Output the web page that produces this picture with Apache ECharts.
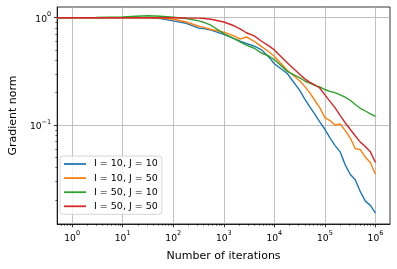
<!DOCTYPE html>
<html>
<head>
<meta charset="utf-8">
<script src="https://cdn.jsdelivr.net/npm/echarts@6/dist/echarts.min.js"></script>
<style>html,body{margin:0;padding:0;background:#fff}#c{width:397px;height:269px}</style>
</head>
<body>
<div id="c"></div>
<script>
var iterations = [0.5, 1, 3, 10, 18, 32, 56, 100, 180, 320, 400, 560, 1000, 1600, 2100, 2800, 4000, 5600, 7900, 10000, 18000, 32000, 40000, 50000, 63000, 79000, 100000, 126000, 158000, 200000, 251000, 316000, 398000, 501000, 631000, 794000, 1000000];
var seriesNames = ['I = 10, J = 10', 'I = 10, J = 50', 'I = 50, J = 10', 'I = 50, J = 50'];
var i10j10 = [1,1,1,1,1,1,0.982,0.933,0.887,0.798,0.791,0.767, 0.700,0.638,0.603,0.575,0.543,0.501,0.427,0.372, 0.302,0.209,0.174,0.148,0.126,0.107,0.0912,0.0759,0.0646,0.0562,0.0427,0.0347,0.0309,0.0240,0.0195,0.0178,0.0151];
var i10j50 = [1,1,1,1,1,1,0.993,0.966,0.912,0.832,0.813,0.776, 0.733,0.676,0.631,0.661,0.603,0.537,0.479,0.437, 0.324,0.257,0.229,0.200,0.170,0.145,0.117,0.110,0.100,0.102,0.0891,0.0759,0.0603,0.0589,0.0501,0.0447,0.0347];
var i50j10 = [1,1.002,1.005,1.014,1.030,1.042,1.030,1.009,0.982,0.933,0.906,0.851, 0.711,0.638,0.596,0.556,0.519,0.468,0.437,0.407, 0.316,0.275,0.257,0.245,0.234,0.226,0.214,0.206,0.200,0.191,0.182,0.170,0.155,0.143,0.135,0.127,0.120];
var i50j50 = [1,1,1,1,1,1,1,1,0.995,0.991,0.984,0.966, 0.912,0.841,0.785,0.724,0.676,0.603,0.543,0.501, 0.380,0.295,0.269,0.251,0.237,0.221,0.191,0.166,0.145,0.123,0.105,0.0912,0.0794,0.0692,0.0631,0.0562,0.0447];
var xMajorTicks = [1, 10, 100, 1000, 10000, 100000, 1000000];
var xMinorTicks = [];
[0.1,1,10,100,1000,10000,100000,1000000].forEach(function(d){for(var k=2;k<=9;k++){xMinorTicks.push(d*k);}});
var yMajorTicks = [0.1, 1];
var yMinorTicks = [];
[0.01,0.1].forEach(function(d){for(var k=2;k<=9;k++){yMinorTicks.push(d*k);}});
var xRange = [0.506, 1.94e6];
var yRange = [0.01194, 1.258];
var colors = ['#1f77b4', '#ff7f0e', '#2ca02c', '#d62728'];
var allY = [i10j10, i10j50, i50j10, i50j50];

var FONT = 'DejaVu Sans';
function expLabel(v) {
  var e = Math.round(Math.log(v) / Math.LN10);
  var s = e < 0 ? '\u2212' + (-e) : '' + e;
  return '{b|10}{s|' + s + '}';
}
var rich = {
  b: {fontFamily: FONT, fontSize: 9.2, color: '#000', verticalAlign: 'bottom', lineHeight: 13},
  s: {fontFamily: FONT, fontSize: 6.5, color: '#000', verticalAlign: 'top', lineHeight: 13}
};
var chart = echarts.init(document.getElementById('c'), null, {renderer: 'canvas'});
var series = allY.map(function(arr, i) {
  return {
    name: seriesNames[i], type: 'line', symbol: 'none', smooth: false,
    xAxisIndex: 0, yAxisIndex: 0,
    lineStyle: {width: 1.4, color: colors[i]}, itemStyle: {color: colors[i]},
    data: iterations.map(function(x, j) { return [x, arr[j]]; }),
    animation: false
  };
});
chart.setOption({
  animation: false,
  textStyle: {fontFamily: FONT},
  grid: {left: 57, right: 7, top: 7, bottom: 45, show: true, borderColor: '#000', borderWidth: 0.8, backgroundColor: 'transparent'},
  legend: {
    orient: 'vertical', left: 60, top: 156,
    data: seriesNames,
    itemWidth: 22, itemHeight: 11, itemGap: 4.1,
    padding: [3, 4, 3, 4],
    backgroundColor: 'rgba(255,255,255,0.8)', borderColor: '#cccccc', borderWidth: 0.8, borderRadius: 3,
    textStyle: {fontFamily: FONT, fontSize: 9.5, color: '#000', padding: [0,0,0,3]},
    icon: 'path://M0,0 L1,0 L1,0.08 L0,0.08 Z'
  },
  xAxis: [{
    type: 'log', logBase: 10, min: xRange[0], max: xRange[1],
    name: 'Number of iterations', nameLocation: 'middle', nameGap: 27,
    nameTextStyle: {fontFamily: FONT, fontSize: 11, color: '#000'},
    axisLine: {show: true, lineStyle: {color: '#000', width: 0.8}},
    axisTick: {show: true, length: 3.3, customValues: xMajorTicks, lineStyle: {color: '#000', width: 0.8}},
    axisLabel: {customValues: xMajorTicks, formatter: expLabel, rich: rich, margin: 6},
    splitLine: {show: true, lineStyle: {color: '#b0b0b0', width: 0.8}},
    minorTick: {show: false}
  }, {
    type: 'log', logBase: 10, min: xRange[0], max: xRange[1], position: 'bottom', offset: 0,
    axisLine: {show: false},
    axisTick: {show: true, length: 1.8, customValues: xMinorTicks, lineStyle: {color: '#000', width: 0.6}},
    axisLabel: {show: false},
    splitLine: {show: false}
  }],
  yAxis: [{
    type: 'log', logBase: 10, min: yRange[0], max: yRange[1],
    name: 'Gradient norm', nameLocation: 'middle', nameGap: 38,
    nameTextStyle: {fontFamily: FONT, fontSize: 11, color: '#000'},
    axisLine: {show: true, lineStyle: {color: '#000', width: 0.8}},
    axisTick: {show: true, length: 3.3, customValues: yMajorTicks, lineStyle: {color: '#000', width: 0.8}},
    axisLabel: {customValues: yMajorTicks, formatter: expLabel, rich: rich, margin: 6},
    splitLine: {show: true, lineStyle: {color: '#b0b0b0', width: 0.8}}
  }, {
    type: 'log', logBase: 10, min: yRange[0], max: yRange[1], position: 'left', offset: 0,
    axisLine: {show: false},
    axisTick: {show: true, length: 1.8, customValues: yMinorTicks, lineStyle: {color: '#000', width: 0.6}},
    axisLabel: {show: false},
    splitLine: {show: false}
  }],
  series: series
});
</script>
</body>
</html>
